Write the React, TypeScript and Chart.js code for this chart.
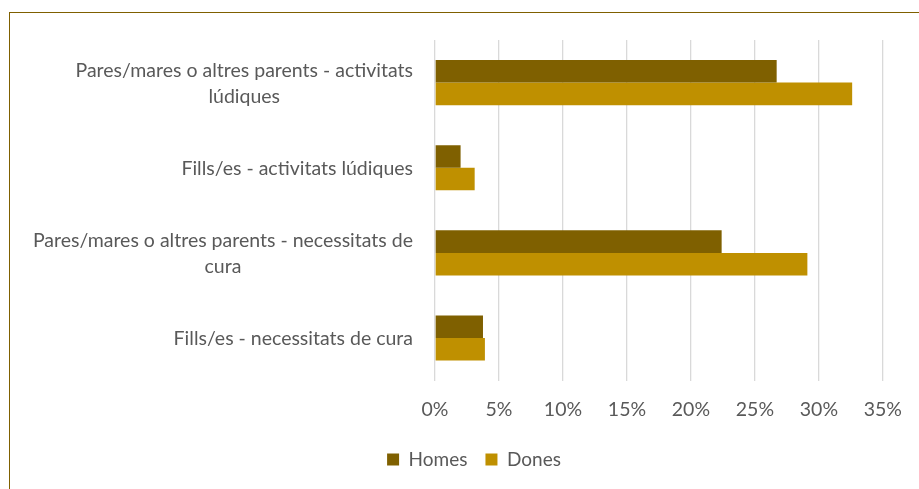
import React, { useEffect, useRef } from "react";
import { Chart, registerables } from "chart.js";

Chart.register(...registerables);

const categories: string[][] = [
  ["Pares/mares o altres parents - activitats", "lúdiques"],
  ["Fills/es - activitats lúdiques"],
  ["Pares/mares o altres parents - necessitats de", "cura"],
  ["Fills/es - necessitats de cura"],
];
const homes: number[] = [26.7, 2.0, 22.4, 3.75];
const dones: number[] = [32.6, 3.1, 29.1, 3.9];
const xTicks: number[] = [0, 5, 10, 15, 20, 25, 30, 35];

const FONT = "Lato, 'Open Sans', sans-serif";
const TEXT = "#595959";
const FS = 19.5;

const yLabelPlugin = {
  id: "yLabels",
  afterDraw(chart: any) {
    const { ctx, chartArea, scales } = chart;
    const y = scales.y;
    ctx.save();
    ctx.font = `${FS}px ${FONT}`;
    ctx.fillStyle = TEXT;
    ctx.textAlign = "center";
    ctx.textBaseline = "middle";
    const lineH = 26;
    categories.forEach((lines, i) => {
      const cy = y.getPixelForValue(i) + 1;
      const maxW = Math.max(...lines.map((l) => ctx.measureText(l).width));
      const cx = chartArea.left - 22 - maxW / 2;
      const startY = cy - ((lines.length - 1) * lineH) / 2;
      lines.forEach((l, j) => ctx.fillText(l, cx, startY + j * lineH));
    });
    ctx.restore();
  },
};

export default function App() {
  const ref = useRef<HTMLCanvasElement | null>(null);
  useEffect(() => {
    if (!ref.current) return;
    const chart = new Chart(ref.current, {
      type: "bar",
      data: {
        labels: categories.map((c) => c.join(" ")),
        datasets: [
          { label: "Homes", data: homes, backgroundColor: "#7F6000", borderWidth: 0 },
          { label: "Dones", data: dones, backgroundColor: "#BF9000", borderWidth: 0 },
        ],
      },
      options: {
        indexAxis: "y",
        animation: false,
        responsive: true,
        maintainAspectRatio: false,
        datasets: { bar: { barPercentage: 1, categoryPercentage: 0.53 } },
        layout: { padding: { left: 52, right: 33, top: 27, bottom: 10 } },
        scales: {
          x: {
            min: 0,
            max: 35,
            afterBuildTicks: (scale: any) => {
              scale.ticks = xTicks.map((v) => ({ value: v }));
            },
            afterFit: (scale: any) => {
              scale.height -= 6;
            },
            ticks: {
              callback: (v: any) => `${v}%`,
              color: TEXT,
              font: { family: FONT, size: FS },
              padding: 17,
            },
            grid: { color: "#d9d9d9", lineWidth: 1.3, drawTicks: false },
            border: { display: false },
          },
          y: {
            ticks: { display: false },
            grid: { display: false },
            border: { display: false },
            afterFit: (scale: any) => {
              scale.width = 373;
            },
          },
        },
        plugins: {
          legend: {
            position: "bottom",
            labels: {
              boxWidth: 12,
              boxHeight: 12,
              color: TEXT,
              font: { family: FONT, size: 19 },
              padding: 18,
            },
          },
          tooltip: { enabled: false },
        },
      },
      plugins: [yLabelPlugin],
    });
    return () => chart.destroy();
  }, []);

  return (
    <div style={{ position: "absolute", left: 0, top: 0, width: 919, height: 489, overflow: "hidden", background: "#fff" }}>
      <div
        style={{
          position: "absolute",
          left: 9,
          top: 12,
          width: 940,
          height: 500,
          borderLeft: "1.5px solid #7F6000",
          borderTop: "1.5px solid #7F6000",
          boxSizing: "border-box",
        }}
      />
      <div style={{ position: "absolute", left: 10, top: 13, width: 909, height: 476 }}>
        <canvas ref={ref} />
      </div>
    </div>
  );
}
